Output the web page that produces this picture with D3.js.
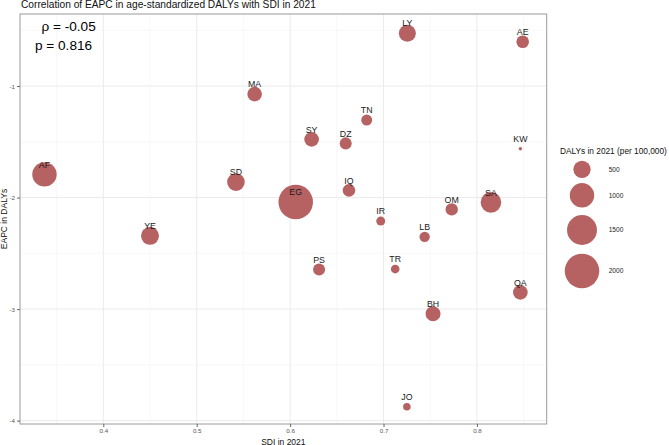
<!DOCTYPE html>
<html>
<head>
<meta charset="utf-8">
<script src="https://cdn.jsdelivr.net/npm/d3@7"></script>
<style>
  html, body { margin: 0; padding: 0; background: #fff; }
  svg { display: block; font-family: "Liberation Sans", Arial, Helvetica, sans-serif; }
</style>
</head>
<body>
<svg id="chart" width="669" height="445"></svg>
<script>
// ---- data ----
const codes = ["AF","YE","SD","EG","SY","PS","MA","LY","AE","TN","DZ","KW","IQ","SA","OM","IR","LB","TR","QA","BH","JO"];
const sdi   = [0.337,0.450,0.542,0.606,0.623,0.631,0.562,0.7255,0.849,0.682,0.6595,0.8465,0.663,0.815,0.773,0.697,0.744,0.7125,0.8465,0.753,0.725];
const eapc  = [-1.792,-2.343,-1.861,-2.040,-1.478,-2.644,-1.072,-0.527,-0.603,-1.305,-1.514,-1.562,-1.935,-2.043,-2.106,-2.211,-2.352,-2.641,-2.850,-3.042,-3.876];
const dalys = [995,541,517,1990,356,241,356,483,265,202,241,19,265,709,257,135,181,124,356,376,96];
const xTicks = [0.4,0.5,0.6,0.7,0.8];
const yTicks = [-1,-2,-3,-4];
const xMinor = [0.35,0.45,0.55,0.65,0.75,0.85];
const yMinor = [-0.5,-1.5,-2.5,-3.5];
const legendValues = [500,1000,1500,2000];
const titleText = "Correlation of EAPC in age-standardized DALYs with SDI in 2021";
const rhoText = "ρ = -0.05";
const pText = "p = 0.816";

// ---- layout ----
const svg = d3.select("#chart");
const P = {left: 20, top: 14, right: 546.7, bottom: 424};
const x = d3.scaleLinear().domain([0.3108, 0.8747]).range([P.left, P.right]);
const y = d3.scaleLinear().domain([-0.354, -4.03]).range([P.top, P.bottom]);
const r = d3.scaleSqrt().domain([0, 2000]).range([0, 17.3]);
const fill = "#b66262";

// grid
const g = svg.append("g");
g.selectAll(".xmin").data(xMinor).join("line")
  .attr("x1", d => x(d)).attr("x2", d => x(d)).attr("y1", P.top).attr("y2", P.bottom)
  .attr("stroke", "#f3f3f3").attr("stroke-width", 0.6);
g.selectAll(".ymin").data(yMinor).join("line")
  .attr("y1", d => y(d)).attr("y2", d => y(d)).attr("x1", P.left).attr("x2", P.right)
  .attr("stroke", "#f3f3f3").attr("stroke-width", 0.6);
g.selectAll(".xmaj").data(xTicks).join("line")
  .attr("x1", d => x(d)).attr("x2", d => x(d)).attr("y1", P.top).attr("y2", P.bottom)
  .attr("stroke", "#ebebeb").attr("stroke-width", 1);
g.selectAll(".ymaj").data(yTicks).join("line")
  .attr("y1", d => y(d)).attr("y2", d => y(d)).attr("x1", P.left).attr("x2", P.right)
  .attr("stroke", "#ebebeb").attr("stroke-width", 1);

// points
const data = codes.map((c, i) => ({code: c, sdi: sdi[i], eapc: eapc[i], dalys: dalys[i]}));
svg.append("g").selectAll("circle").data(data).join("circle")
  .attr("cx", d => x(d.sdi)).attr("cy", d => y(d.eapc)).attr("r", d => r(d.dalys))
  .attr("fill", fill);
svg.append("g").selectAll("text").data(data).join("text")
  .attr("x", d => x(d.sdi)).attr("y", d => y(d.eapc) - 6.8)
  .attr("text-anchor", "middle").attr("font-size", 8.8).attr("fill", "#1a1a1a")
  .text(d => d.code);

// border
svg.append("rect").attr("x", P.left).attr("y", P.top)
  .attr("width", P.right - P.left).attr("height", P.bottom - P.top)
  .attr("fill", "none").attr("stroke", "#9a9a9a").attr("stroke-width", 1);

// axes
const xAxis = d3.axisBottom(x).tickValues(xTicks).tickSize(3).tickPadding(2).tickFormat(d => d.toFixed(1));
const yAxis = d3.axisLeft(y).tickValues(yTicks).tickSize(3).tickPadding(2).tickFormat(d => String(d));
const gx = svg.append("g").attr("transform", `translate(0,${P.bottom})`).call(xAxis);
const gy = svg.append("g").attr("transform", `translate(${P.left},0)`).call(yAxis);
[gx, gy].forEach(a => {
  a.select(".domain").remove();
  a.selectAll(".tick line").attr("stroke", "#666");
  a.selectAll(".tick text").attr("fill", "#555").attr("font-size", 6.2);
});

// titles
svg.append("text").attr("x", 21).attr("y", 8).attr("font-size", 10.2).attr("fill", "#111").text(titleText);
svg.append("text").attr("x", (P.left + P.right) / 2).attr("y", 444.5).attr("text-anchor", "middle")
  .attr("font-size", 8.5).attr("fill", "#111").text("SDI in 2021");
svg.append("text").attr("transform", `translate(7,${(P.top + P.bottom) / 2}) rotate(-90)`)
  .attr("text-anchor", "middle").attr("font-size", 8.5).attr("fill", "#111").text("EAPC in DALYs");

// correlation annotation
svg.append("text").attr("x", 41.5).attr("y", 31).attr("font-size", 13.6).attr("fill", "#000").text(rhoText);
svg.append("text").attr("x", 35).attr("y", 50).attr("font-size", 13.6).attr("fill", "#000").text(pText);

// legend
const lg = svg.append("g");
lg.append("text").attr("x", 560).attr("y", 153.6).attr("font-size", 8.3).attr("fill", "#111").text("DALYs in 2021 (per 100,000)");
const legendY = d3.scaleOrdinal().domain(legendValues).range([169.3, 195.3, 230, 271]);
lg.selectAll("circle").data(legendValues).join("circle")
  .attr("cx", 582).attr("cy", d => legendY(d)).attr("r", d => r(d)).attr("fill", fill);
lg.selectAll(".ll").data(legendValues).join("text")
  .attr("x", 608.7).attr("y", d => legendY(d) + 2.3).attr("font-size", 6.6).attr("fill", "#222")
  .text(d => d);
</script>
</body>
</html>
